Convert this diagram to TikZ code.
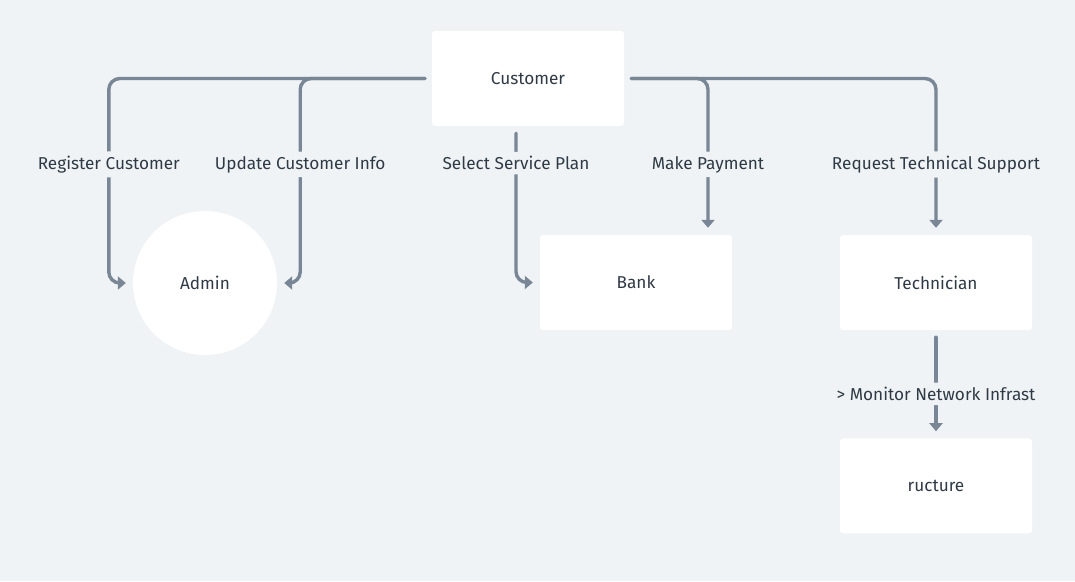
\documentclass[tikz,border=0pt]{standalone}
\usepackage{fontspec}
\setmainfont{Fira Sans}
\usetikzlibrary{ arrows.meta, % For the arrow tips
                 positioning, % For easy node-relative placements
               }
\definecolor{canvas}{HTML}{EFF3F6}
\definecolor{wire}{HTML}{788695}
\definecolor{ink}{HTML}{2F3A45}
\tikzstyle{flow} = [draw=wire, line width=3.4pt, line cap=round, rounded corners=11pt,
                    shorten <=7pt, shorten >=7pt, -{Triangle[width=13pt, length=8pt]}]
\tikzstyle{entity} = [rectangle, fill=white, rounded corners=3pt, minimum width=192pt,
                      minimum height=95pt, text=ink]
\tikzstyle{actor} = [circle, fill=white, minimum size=144pt, text=ink]
\tikzstyle{flowlabel} = [fill=canvas, text=ink, inner xsep=3pt, inner ysep=4.5pt]

\begin{document}
\begin{tikzpicture}[x=1pt, y=-1pt, font=\fontsize{17.2pt}{20pt}\selectfont]
  \fill [canvas] (0, 0) rectangle (1075, 581);

  \node (cust) [entity] at (528, 78.5) {Customer};
  \node (admin) [actor] at (205, 283) {Admin};
  \node (bank) [entity] at (636, 282.5) {Bank};
  \node (tech) [entity] at (936, 282.5) {Technician};
  \node (infra) [entity, below=108pt of tech] {ructure};

  \draw [flow] (cust.west) -| node [flowlabel, pos=0.71] {Register Customer}
        ([xshift=-24pt]admin.west) -- (admin.west);
  \draw [flow] (cust.west) -| node [flowlabel, pos=0.71] {Update Customer Info}
        ([xshift=23pt]admin.east) -- (admin.east);
  \draw [flow] ([xshift=-12pt]cust.south) |- node [flowlabel, pos=0.118] {Select Service Plan} (bank.west);
  \draw [flow] (cust.east) -| node [flowlabel, pos=0.775] {Make Payment} ([xshift=72pt]bank.north);
  \draw [flow] (cust.east) -| node [flowlabel, pos=0.775] {Request Technical Support} (tech.north);
  \draw [flow] (tech) -- node [flowlabel, pos=0.59] {> Monitor Network Infrast} (infra);
\end{tikzpicture}
\end{document}
